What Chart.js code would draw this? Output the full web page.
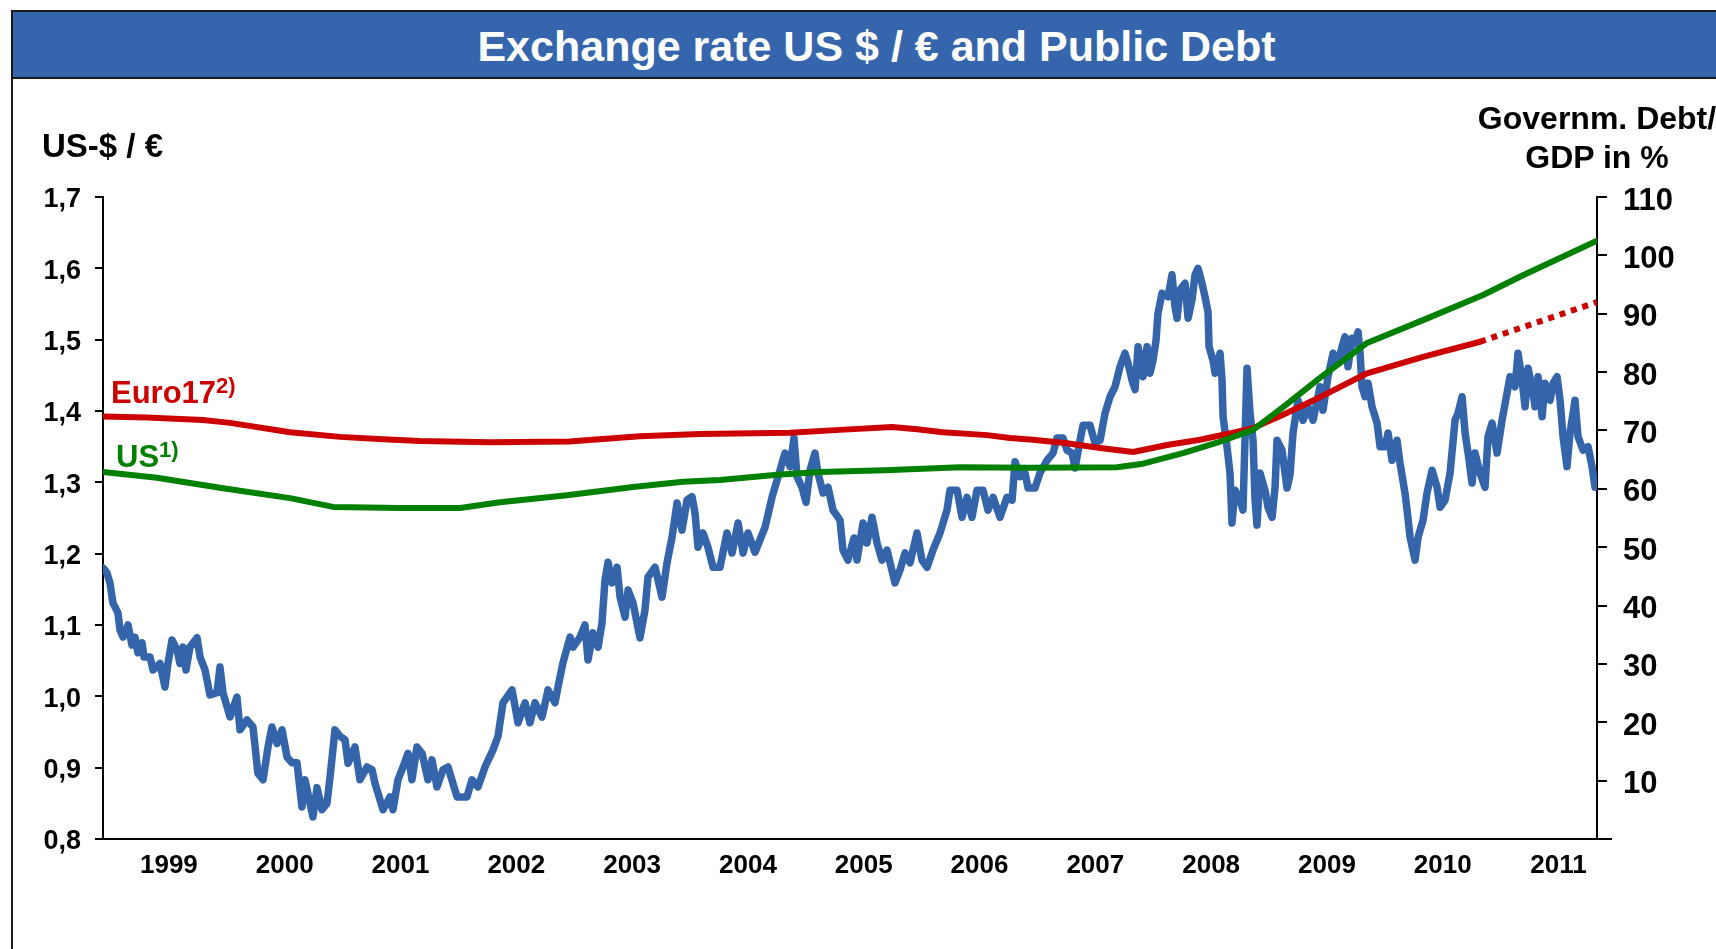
<!DOCTYPE html>
<html>
<head>
<meta charset="utf-8">
<script src="https://cdn.jsdelivr.net/npm/chart.js@4/dist/chart.umd.min.js"></script>
<style>
html,body{margin:0;padding:0;background:#fff;width:1716px;height:949px;overflow:hidden;
  font-family:'Liberation Sans',Arial,sans-serif;font-weight:bold;}
#frame{position:absolute;left:11px;top:10px;width:1800px;height:1000px;border:2px solid #1a1a1a;box-sizing:border-box;}
#bar{position:absolute;left:11px;top:10px;width:1800px;height:69px;background:#3566AD;border:2px solid #1a1a1a;box-sizing:border-box;}
#title{position:absolute;left:0;top:25px;width:1753px;text-align:center;color:#fff;font-size:43px;line-height:43px;white-space:nowrap;}
#chartBox{position:absolute;left:0;top:0;width:1716px;height:949px;}
.lbl{position:absolute;white-space:nowrap;}
#yLeftTitle{left:42px;top:130px;font-size:33px;line-height:32px;color:#000;}
#yRightTitle{left:1397px;width:400px;top:99px;font-size:32px;line-height:39px;color:#000;text-align:center;}
#euroLbl{left:111px;top:378px;font-size:31px;line-height:30px;color:#CC0000;}
#usLbl{left:116px;top:442px;font-size:31px;line-height:30px;color:#008000;}
.sup{font-size:22px;position:relative;top:-10px;}
</style>
</head>
<body>
<div id="frame"></div>
<div id="bar"></div>
<div id="title" class="lbl">Exchange rate US $ / € and Public Debt</div>
<div id="chartBox"><canvas id="c" width="1716" height="949"></canvas></div>
<div id="yLeftTitle" class="lbl">US-$ / €</div>
<div id="yRightTitle" class="lbl">Governm. Debt/<br>GDP in %</div>
<div id="euroLbl" class="lbl">Euro17<span class="sup">2)</span></div>
<div id="usLbl" class="lbl">US<span class="sup">1)</span></div>
<script>
// ---------- DATA ----------
const yearLabels = ['1999','2000','2001','2002','2003','2004','2005','2006','2007','2008','2009','2010','2011'];
const leftTicks = [0.8,0.9,1.0,1.1,1.2,1.3,1.4,1.5,1.6,1.7];
const rightTicks = [0,10,20,30,40,50,60,70,80,90,100,110];

// US-$ per €, x in decimal years
const fxYears = [
1998.931,1998.965,1998.991,1999.017,1999.060,1999.078,1999.104,1999.147,1999.181,1999.207,
1999.233,1999.268,1999.285,1999.337,1999.363,1999.423,1999.466,1999.492,1999.527,1999.570,
1999.596,1999.622,1999.648,1999.682,1999.743,1999.769,1999.812,1999.855,1999.915,1999.941,
1999.967,2000.028,2000.088,2000.114,2000.174,2000.226,2000.269,2000.313,2000.356,2000.390,
2000.434,2000.477,2000.520,2000.563,2000.606,2000.649,2000.675,2000.744,2000.779,2000.822,
2000.865,2000.891,2000.934,2000.978,2001.021,2001.047,2001.107,2001.150,2001.211,2001.254,
2001.280,2001.349,2001.409,2001.435,2001.478,2001.522,2001.565,2001.599,2001.642,2001.686,
2001.737,2001.772,2001.815,2001.867,2001.910,2001.988,2002.074,2002.117,2002.169,2002.230,
2002.299,2002.342,2002.385,2002.463,2002.515,2002.575,2002.618,2002.661,2002.722,2002.774,
2002.834,2002.860,2002.903,2002.964,2002.990,2003.050,2003.093,2003.119,2003.162,2003.206,
2003.240,2003.266,2003.292,2003.326,2003.370,2003.396,2003.439,2003.465,2003.508,2003.568,
2003.611,2003.637,2003.698,2003.758,2003.801,2003.845,2003.888,2003.931,2003.974,2004.017,
2004.043,2004.069,2004.112,2004.155,2004.199,2004.259,2004.319,2004.363,2004.415,2004.458,
2004.501,2004.561,2004.648,2004.708,2004.777,2004.820,2004.864,2004.898,2004.924,2004.967,
2005.002,2005.036,2005.079,2005.105,2005.149,2005.192,2005.235,2005.295,2005.321,2005.364,
2005.416,2005.442,2005.494,2005.528,2005.572,2005.615,2005.658,2005.701,2005.770,2005.813,
2005.857,2005.900,2005.960,2006.003,2006.047,2006.098,2006.159,2006.219,2006.245,2006.306,
2006.349,2006.392,2006.435,2006.478,2006.530,2006.573,2006.617,2006.677,2006.737,2006.781,
2006.807,2006.850,2006.893,2006.919,2006.979,2007.022,2007.083,2007.135,2007.169,2007.221,
2007.256,2007.299,2007.325,2007.368,2007.394,2007.454,2007.497,2007.541,2007.584,2007.627,
2007.670,2007.713,2007.756,2007.782,2007.817,2007.843,2007.869,2007.912,2007.946,2007.972,
2007.998,2008.024,2008.041,2008.076,2008.128,2008.162,2008.188,2008.206,2008.231,2008.275,
2008.301,2008.335,2008.361,2008.387,2008.421,2008.447,2008.473,2008.482,2008.516,2008.534,
2008.577,2008.594,2008.603,2008.637,2008.663,2008.680,2008.706,2008.750,2008.775,2008.810,
2008.836,2008.862,2008.879,2008.896,2008.922,2008.965,2008.991,2009.026,2009.052,2009.069,
2009.112,2009.155,2009.181,2009.207,2009.250,2009.294,2009.337,2009.380,2009.440,2009.466,
2009.509,2009.553,2009.596,2009.630,2009.656,2009.682,2009.717,2009.743,2009.769,2009.786,
2009.803,2009.829,2009.855,2009.889,2009.933,2009.959,2010.002,2010.028,2010.062,2010.105,
2010.131,2010.174,2010.192,2010.218,2010.261,2010.287,2010.330,2010.364,2010.408,2010.451,
2010.477,2010.520,2010.563,2010.606,2010.632,2010.667,2010.693,2010.719,2010.753,2010.779,
2010.822,2010.865,2010.891,2010.926,2010.969,2011.012,2011.055,2011.081,2011.124,2011.150,
2011.185,2011.211,2011.237,2011.271,2011.297,2011.323,2011.358,2011.383,2011.427,2011.453,
2011.487,2011.513,2011.539,2011.573,2011.599,2011.642,2011.668,2011.712,2011.755,2011.789,
2011.815,2011.832];
const fxRates = [
1.180,1.173,1.159,1.131,1.117,1.093,1.083,1.100,1.072,1.083,
1.061,1.075,1.055,1.055,1.037,1.046,1.013,1.046,1.079,1.065,
1.046,1.069,1.037,1.069,1.082,1.055,1.037,1.002,1.005,1.041,
1.005,0.971,0.999,0.953,0.967,0.957,0.892,0.883,0.929,0.957,
0.934,0.953,0.915,0.907,0.907,0.845,0.883,0.831,0.872,0.841,
0.850,0.886,0.953,0.944,0.939,0.906,0.929,0.883,0.901,0.897,
0.878,0.841,0.859,0.841,0.883,0.901,0.920,0.883,0.929,0.920,
0.883,0.911,0.873,0.897,0.901,0.859,0.859,0.883,0.873,0.901,
0.925,0.944,0.991,1.009,0.963,0.991,0.963,0.991,0.971,1.009,
0.991,1.013,1.047,1.083,1.069,1.083,1.100,1.051,1.089,1.069,
1.103,1.163,1.188,1.159,1.181,1.139,1.111,1.149,1.131,1.082,
1.121,1.167,1.181,1.139,1.187,1.223,1.271,1.233,1.275,1.280,
1.257,1.209,1.229,1.209,1.181,1.181,1.229,1.201,1.243,1.201,
1.229,1.202,1.237,1.279,1.317,1.341,1.322,1.362,1.308,1.293,
1.272,1.317,1.341,1.313,1.285,1.293,1.261,1.247,1.205,1.191,
1.222,1.191,1.243,1.215,1.251,1.215,1.191,1.205,1.159,1.177,
1.201,1.187,1.229,1.191,1.181,1.205,1.229,1.261,1.289,1.289,
1.251,1.279,1.251,1.289,1.289,1.261,1.279,1.251,1.279,1.275,
1.329,1.308,1.313,1.292,1.292,1.313,1.331,1.341,1.362,1.362,
1.345,1.341,1.320,1.359,1.380,1.380,1.355,1.359,1.397,1.420,
1.434,1.462,1.481,1.467,1.443,1.430,1.490,1.448,1.490,1.453,
1.471,1.499,1.537,1.565,1.560,1.591,1.546,1.530,1.570,1.579,
1.530,1.556,1.591,1.600,1.579,1.560,1.539,1.490,1.471,1.453,
1.481,1.443,1.392,1.350,1.313,1.243,1.289,1.275,1.261,1.460,
1.397,1.359,1.275,1.240,1.313,1.289,1.265,1.251,1.293,1.359,
1.345,1.292,1.310,1.369,1.415,1.387,1.406,1.387,1.434,1.401,
1.448,1.481,1.467,1.490,1.504,1.462,1.502,1.495,1.511,1.481,
1.434,1.420,1.439,1.406,1.383,1.350,1.350,1.369,1.331,1.359,
1.327,1.285,1.261,1.223,1.191,1.223,1.247,1.285,1.317,1.293,
1.265,1.275,1.313,1.387,1.397,1.420,1.369,1.341,1.299,1.341,
1.313,1.293,1.364,1.383,1.341,1.387,1.425,1.448,1.434,1.481,
1.443,1.406,1.460,1.434,1.406,1.448,1.392,1.439,1.415,1.439,
1.448,1.415,1.364,1.322,1.369,1.415,1.364,1.345,1.350,1.322,
1.293,1.303];

// Government debt / GDP in % (right axis)
const euroDebtYears  = [1998.931,1999.311,1999.794,2000.028,2000.546,2000.978,2001.349,2001.668,2002.273,2002.955,
                        2003.568,2004.086,2004.864,2005.295,2005.744,2005.960,2006.185,2006.565,2006.763,2006.962,
                        2007.256,2007.541,2007.826,2008.119,2008.404,2008.689,2008.862,2009.121,2009.440,2009.846,
                        2010.330,2010.822];
const euroDebtValues = [72.4,72.2,71.8,71.3,69.7,68.9,68.5,68.2,68.0,68.1,
                        69.0,69.4,69.6,70.1,70.6,70.2,69.7,69.2,68.7,68.4,
                        67.8,67.0,66.3,67.5,68.4,69.6,70.4,72.7,75.7,79.8,
                        82.6,85.2];
const euroForecastYears  = [2010.822,2011.832];
const euroForecastValues = [85.2,92.0];
const usDebtYears  = [1998.931,1999.397,1999.967,2000.546,2000.917,2001.496,2002.014,2002.359,2002.938,2003.508,
                      2003.940,2004.259,2004.518,2004.751,2005.123,2005.684,2006.332,2006.936,2007.687,2007.912,
                      2008.257,2008.551,2008.862,2009.121,2009.440,2009.846,2010.330,2010.848,2011.193,2011.832];
const usDebtValues = [62.9,61.9,60.1,58.4,56.9,56.7,56.7,57.7,58.9,60.3,
                      61.2,61.5,62.0,62.4,62.9,63.2,63.7,63.6,63.7,64.3,
                      66.1,67.9,70.1,74.0,79.0,85.0,88.9,93.2,96.6,102.5];

const xMin = 1998.931, xMax = 2011.832;

// ---------- CHART ----------
const pts = (xs, ys) => xs.map((x, i) => ({x: x, y: ys[i]}));
const fam = "'Liberation Sans', Arial, sans-serif";
const tickFontL = {family: fam, size: 27, weight: 'bold'};
const tickFontX = {family: fam, size: 26, weight: 'bold'};
const tickFontR = {family: fam, size: 31, weight: 'bold'};

// extends the x-axis line a little past the right axis, as in the original
const axisExtension = {
  id: 'axisExtension',
  afterDraw(chart) {
    const {ctx, chartArea} = chart;
    ctx.save();
    ctx.strokeStyle = '#000';
    ctx.lineWidth = 2;
    ctx.beginPath();
    ctx.moveTo(chartArea.right, chartArea.bottom);
    ctx.lineTo(chartArea.right + 15, chartArea.bottom);
    ctx.stroke();
    ctx.restore();
  }
};

new Chart(document.getElementById('c'), {
  type: 'line',
  data: {
    datasets: [
      {label: 'US', data: pts(usDebtYears, usDebtValues), yAxisID: 'yR', borderColor: '#008000',
       borderWidth: 6, pointRadius: 0, borderCapStyle: 'round', borderJoinStyle: 'round', order: 0},
      {label: 'Euro17', data: pts(euroDebtYears, euroDebtValues), yAxisID: 'yR', borderColor: '#CC0000',
       borderWidth: 6, pointRadius: 0, borderCapStyle: 'round', borderJoinStyle: 'round', order: 1},
      {label: 'Euro17 forecast', data: pts(euroForecastYears, euroForecastValues), yAxisID: 'yR', borderColor: '#CC0000',
       borderWidth: 6, pointRadius: 0, borderDash: [6, 6], borderCapStyle: 'butt', order: 2},
      {label: 'US-$ / €', data: pts(fxYears, fxRates), yAxisID: 'y', borderColor: '#3465AA',
       borderWidth: 7.5, pointRadius: 0, borderCapStyle: 'round', borderJoinStyle: 'round', order: 3}
    ]
  },
  plugins: [axisExtension],
  options: {
    responsive: false,
    devicePixelRatio: 1,
    animation: false,
    layout: {padding: {left: 0, right: 0, top: 197, bottom: 0}},
    plugins: {legend: {display: false}, tooltip: {enabled: false}, title: {display: false}},
    scales: {
      x: {
        type: 'linear', min: xMin, max: xMax,
        afterFit: s => { s.height = 110; },
        afterBuildTicks: s => { s.ticks = yearLabels.map(y => ({value: Number(y) + 0.5})); },
        grid: {display: false, drawTicks: false},
        border: {display: true, color: '#000', width: 2},
        ticks: {color: '#000', font: tickFontX, padding: 11, maxRotation: 0, autoSkip: false,
                callback: (v, i) => yearLabels[i]}
      },
      y: {
        type: 'linear', position: 'left', min: 0.8, max: 1.7,
        afterFit: s => { s.width = 103; },
        afterBuildTicks: s => { s.ticks = leftTicks.map(v => ({value: v})); },
        grid: {drawOnChartArea: false, drawTicks: true, tickLength: 8, color: '#000', lineWidth: 2},
        border: {display: true, color: '#000', width: 2},
        ticks: {color: '#000', font: tickFontL, padding: 14, labelOffset: 3,
                callback: v => v.toFixed(1).replace('.', ',')}
      },
      yR: {
        type: 'linear', position: 'right', min: 0, max: 110,
        afterFit: s => { s.width = 119; },
        afterBuildTicks: s => { s.ticks = rightTicks.map(v => ({value: v})); },
        grid: {drawOnChartArea: false, drawTicks: true, tickLength: 10, color: '#000', lineWidth: 2},
        border: {display: true, color: '#000', width: 2},
        ticks: {color: '#000', font: tickFontR, padding: 16, labelOffset: 4,
                callback: v => (v === 0 ? '' : String(v))}
      }
    }
  }
});
</script>
</body>
</html>
